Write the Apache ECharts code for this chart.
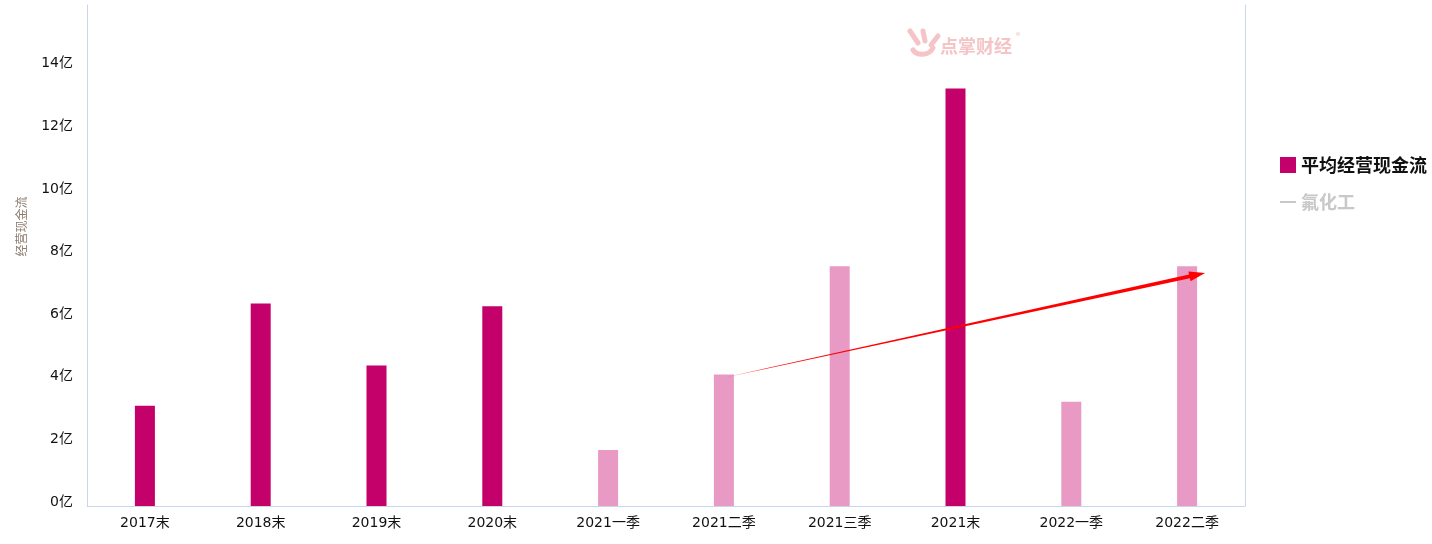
<!DOCTYPE html>
<html>
<head>
<meta charset="utf-8">
<script src="https://cdn.jsdelivr.net/npm/echarts@6/dist/echarts.min.js"></script>
<style>
html,body{margin:0;padding:0;background:#fff;}
#main{width:1432px;height:544px;}
</style>
</head>
<body>
<div id="main"></div>
<script>
// ---- data ----
var categories = ['2017末','2018末','2019末','2020末','2021一季','2021二季','2021三季','2021末','2022一季','2022二季'];
var avgCashFlow = [3.2, 6.47, 4.49, 6.38, 1.79, 4.2, 7.66, 13.33, 3.33, 7.66]; // 亿
var fluorideChem = []; // 氟化工 (hidden in legend)
var yTicks = [0, 2, 4, 6, 8, 10, 12, 14, 16];
var arrowFrom = ['2021二季', 4.13];
var arrowTo = ['2022二季', 7.44];

var DARK = '#c4006a', LIGHT = '#e89ac4', AXIS = '#c8d5ea';
var FONT = '"Noto Sans CJK SC", "Noto Sans", sans-serif';
var LABEL_FONT = '"DejaVu Sans", "Noto Sans CJK SC", sans-serif';
var WM = '#f4c4c6';

var chart = echarts.init(document.getElementById('main'));
var option = {
  animation: false,
  backgroundColor: '#fff',
  textStyle: {fontFamily: FONT},
  grid: {left: 87, right: 187, top: 5, bottom: 38, containLabel: false},
  legend: {
    orient: 'vertical',
    left: 1275, top: 151,
    itemWidth: 16, itemHeight: 16, itemGap: 19,
    inactiveColor: '#c8c8c8',
    textStyle: {fontSize: 18, fontWeight: 'bold', color: '#111', fontFamily: FONT},
    selected: {'氟化工': false},
    data: [{name: '平均经营现金流', icon: 'rect'}, {name: '氟化工', icon: 'path://M0,7L16,7L16,9L0,9Z'}]
  },
  xAxis: {
    type: 'category',
    data: categories,
    axisLine: {lineStyle: {color: AXIS}},
    axisTick: {show: false},
    axisLabel: {color: '#111', fontSize: 14, margin: 10, fontFamily: LABEL_FONT}
  },
  yAxis: [{
    type: 'value',
    min: yTicks[0], max: yTicks[yTicks.length - 1], interval: 2,
    name: '经营现金流',
    nameLocation: 'middle',
    nameGap: 60,
    nameRotate: 90,
    nameTextStyle: {color: '#8c7b6e', fontSize: 12, padding: [0, 0, 0, 58]},
    axisLine: {show: true, lineStyle: {color: AXIS}},
    axisTick: {show: false},
    splitLine: {show: false},
    axisLabel: {
      color: '#111', fontSize: 14, margin: 14, verticalAlign: 'bottom', padding: [0, 0, -3, 0],
      fontFamily: LABEL_FONT,
      showMaxLabel: false,
      formatter: function (v) { return v + '亿'; }
    }
  }, {
    type: 'value',
    position: 'right',
    axisLine: {show: true, lineStyle: {color: AXIS}},
    axisTick: {show: false},
    axisLabel: {show: false},
    splitLine: {show: false}
  }],
  series: [{
    name: '平均经营现金流',
    type: 'bar',
    barWidth: 20,
    itemStyle: {color: DARK},
    data: avgCashFlow.map(function (v, i) {
      return {value: v, itemStyle: {color: /末$/.test(categories[i]) ? DARK : LIGHT}};
    })
  }, {
    name: '氟化工',
    type: 'line',
    yAxisIndex: 1,
    symbol: 'none',
    lineStyle: {width: 2, color: '#888'},
    data: fluorideChem
  }]
};
chart.setOption(option);

// ---- arrow annotation & watermark ----
function drawExtras() {
  var p0 = chart.convertToPixel({xAxisIndex: 0, yAxisIndex: 0}, [categories.indexOf(arrowFrom[0]), arrowFrom[1]]);
  var p1 = chart.convertToPixel({xAxisIndex: 0, yAxisIndex: 0}, [categories.indexOf(arrowTo[0]), arrowTo[1]]);
  p0 = [p0[0] + 5, p0[1]];
  p1 = [p1[0] + 18, p1[1]];
  var dx = p1[0] - p0[0], dy = p1[1] - p0[1];
  var len = Math.sqrt(dx * dx + dy * dy);
  var d = [dx / len, dy / len], n = [-d[1], d[0]];
  var headLen = 16, headW = 5, sw0 = 0.2, sw1 = 1.9;
  var se = [p1[0] - d[0] * headLen, p1[1] - d[1] * headLen];
  function pt(b, k) { return [b[0] + n[0] * k, b[1] + n[1] * k]; }
  var poly = [pt(p0, sw0), pt(se, sw1), pt(se, headW), p1, pt(se, -headW), pt(se, -sw1), pt(p0, -sw0)];
  var stroke = {stroke: WM, lineWidth: 5, lineCap: 'round', lineJoin: 'round', fill: null};
  chart.setOption({
    graphic: [
      {
        type: 'polygon', shape: {points: poly}, z: 100,
        style: {fill: new echarts.graphic.LinearGradient(p0[0], p0[1], p1[0], p1[1], [
          {offset: 0, color: 'rgba(255,0,0,0.25)'}, {offset: 0.08, color: '#ff0000'}, {offset: 1, color: '#ff0000'}
        ], true)}
      },
      {
        type: 'group', x: 905, y: 28, z: 1, silent: true,
        children: [
          {type: 'polyline', shape: {points: [[5, 3], [13, 15]]}, style: stroke},
          {type: 'polyline', shape: {points: [[18, 3], [20, 13]]}, style: stroke},
          {type: 'polyline', shape: {points: [[33, 8], [26, 17]]}, style: stroke},
          {type: 'bezierCurve', shape: {x1: 8, y1: 22, x2: 28, y2: 20, cpx1: 12, cpy1: 28, cpx2: 24, cpy2: 28}, style: stroke},
          {type: 'text', x: 35, y: 9, style: {text: '点掌财经', fill: WM, font: 'bold 18px ' + FONT}},
          {type: 'text', x: 111, y: 3, style: {text: '®', fill: WM, font: '9px ' + FONT}}
        ]
      }
    ]
  });
}
drawExtras();
</script>
</body>
</html>
